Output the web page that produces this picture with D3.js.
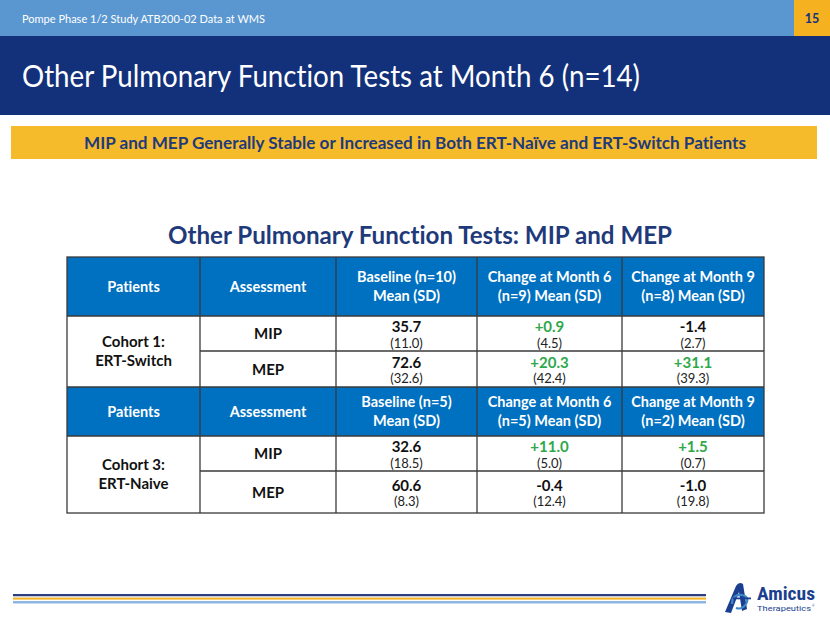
<!DOCTYPE html>
<html><head><meta charset="utf-8">
<script src="https://cdn.jsdelivr.net/npm/d3@7"></script>
<style>html,body{margin:0;padding:0;background:#fff;}svg{display:block;font-family:Lato,"Open Sans",sans-serif;font-variant-ligatures:none;font-feature-settings:"liga" 0;}</style>
</head><body>
<svg id="c" width="830" height="623"></svg>
<script>
// ---------- data ----------
const topLabel = "Pompe Phase 1/2 Study ATB200-02 Data at WMS";
const pageNumber = "15";
const slideTitle = "Other Pulmonary Function Tests at Month 6 (n=14)";
const bannerText = "MIP and MEP Generally Stable or Increased in Both ERT-Naïve and ERT-Switch Patients";
const tableTitle = "Other Pulmonary Function Tests: MIP and MEP";
const headersCohort1 = ["Patients", "Assessment", "Baseline (n=10)|Mean (SD)", "Change at Month 6|(n=9) Mean (SD)", "Change at Month 9|(n=8) Mean (SD)"];
const headersCohort3 = ["Patients", "Assessment", "Baseline (n=5)|Mean (SD)", "Change at Month 6|(n=5) Mean (SD)", "Change at Month 9|(n=2) Mean (SD)"];
const cohorts = ["Cohort 1:|ERT-Switch", "Cohort 3:|ERT-Naive"];
const assessments = ["MIP", "MEP"];
// [cohort][assessment] -> [baseline, change m6, change m9]
const means = [[[35.7, 0.9, -1.4], [72.6, 20.3, 31.1]], [[32.6, 11.0, 1.5], [60.6, -0.4, -1.0]]];
const sds   = [[[11.0, 4.5, 2.7], [32.6, 42.4, 39.3]], [[18.5, 5.0, 0.7], [8.3, 12.4, 19.8]]];

// ---------- layout ----------
const svg = d3.select("#c");
const navy = "#13317a", blueHdr = "#0070c0", green = "#2ea84a", titleBlue = "#1f3a7a";
const colEdges = [67, 200, 336, 477, 622, 764];
const x = d3.scaleOrdinal().domain(d3.range(5)).range(d3.range(5).map(i => (colEdges[i] + colEdges[i + 1]) / 2));
// row edges: hdr1, mip1, mep1, hdr2, mip3, mep3
const rowEdges = [257, 316, 351, 387, 436, 471, 513];

function fit(sel, w) {
  sel.each(function () {
    const n = this.getComputedTextLength();
    if (Math.abs(n - w) / w > 0.015) { d3.select(this).attr("textLength", w).attr("lengthAdjust", "spacingAndGlyphs"); }
  });
}

// header strips
svg.append("rect").attr("x", 0).attr("y", 0).attr("width", 830).attr("height", 36).attr("fill", "#5a97d1");
svg.append("rect").attr("x", 794).attr("y", 0).attr("width", 36).attr("height", 36).attr("fill", "#f5b120");
svg.append("rect").attr("x", 0).attr("y", 36).attr("width", 830).attr("height", 79).attr("fill", navy);
svg.append("text").attr("x", 22).attr("y", 22.5).attr("fill", "#fff").attr("font-size", 11.5).text(topLabel).call(fit, 243);
svg.append("text").attr("x", 812).attr("y", 22.5).attr("text-anchor", "middle").attr("fill", navy).attr("font-size", 12.5).attr("font-weight", 700).text(pageNumber);
svg.append("text").attr("x", 22).attr("y", 87).attr("fill", "#fff").attr("font-size", 31).text(slideTitle).call(fit, 618);

// banner
svg.append("rect").attr("x", 11).attr("y", 126).attr("width", 806).attr("height", 33).attr("fill", "#f6bb2a");
svg.append("text").attr("x", 415).attr("y", 148.5).attr("text-anchor", "middle").attr("fill", titleBlue).attr("font-size", 17.5).attr("font-weight", 700).text(bannerText).call(fit, 662);

// table title
svg.append("text").attr("x", 420).attr("y", 244).attr("text-anchor", "middle").attr("fill", titleBlue).attr("font-size", 25).attr("font-weight", 700).text(tableTitle).call(fit, 504);

// table
const fmtBase = d3.format(".1f");
const fmtChg = v => (v > 0 ? "+" : v < 0 ? "-" : "") + fmtBase(Math.abs(v));
const g = svg.append("g");
[headersCohort1, headersCohort3].forEach((hdr, ci) => {
  const hTop = rowEdges[ci * 3], hBot = rowEdges[ci * 3 + 1];
  g.append("rect").attr("x", colEdges[0]).attr("y", hTop).attr("width", colEdges[5] - colEdges[0]).attr("height", hBot - hTop).attr("fill", blueHdr);
  const hc = (hTop + hBot) / 2;
  hdr.forEach((h, j) => {
    const lines = h.split("|");
    const t = g.append("text").attr("text-anchor", "middle").attr("fill", "#fff").attr("font-size", 14.5).attr("font-weight", 700);
    lines.forEach((ln, k) => {
      t.append("tspan").attr("x", x(j)).attr("y", hc + 5 + (k - (lines.length - 1) / 2) * 18.5).text(ln);
    });
  });
  // cohort cell
  const cTop = hBot, cBot = rowEdges[ci * 3 + 3];
  const cc = (cTop + cBot) / 2;
  const cl = cohorts[ci].split("|");
  const ct = g.append("text").attr("text-anchor", "middle").attr("fill", "#111").attr("font-size", 15).attr("font-weight", 700);
  cl.forEach((ln, k) => ct.append("tspan").attr("x", x(0)).attr("y", cc + 5 + (k - 0.5) * 18.5).text(ln));
  assessments.forEach((a, ai) => {
    const rTop = rowEdges[ci * 3 + 1 + ai], rBot = rowEdges[ci * 3 + 2 + ai];
    const rc = (rTop + rBot) / 2;
    g.append("text").attr("x", x(1)).attr("y", rc + 5.5).attr("text-anchor", "middle").attr("fill", "#111").attr("font-size", 15).attr("font-weight", 700).text(a);
    means[ci][ai].forEach((m, k) => {
      const isChg = k > 0;
      g.append("text").attr("x", x(k + 2)).attr("y", rc - 1.5).attr("text-anchor", "middle")
        .attr("fill", isChg && m > 0 ? green : "#111").attr("font-size", 15).attr("font-weight", 700)
        .text(isChg ? fmtChg(m) : fmtBase(m));
      g.append("text").attr("x", x(k + 2)).attr("y", rc + 14).attr("text-anchor", "middle")
        .attr("fill", "#222").attr("font-size", 13).text("(" + fmtBase(sds[ci][ai][k]) + ")");
    });
  });
});
// grid lines
const stroke = "#3a3a3a";
const lines = g.append("g").attr("stroke", stroke).attr("stroke-width", 1.3).attr("fill", "none");
lines.append("rect").attr("x", colEdges[0]).attr("y", rowEdges[0]).attr("width", colEdges[5] - colEdges[0]).attr("height", rowEdges[6] - rowEdges[0]);
colEdges.slice(1, 5).forEach(cx => lines.append("line").attr("x1", cx).attr("x2", cx).attr("y1", rowEdges[0]).attr("y2", rowEdges[6]));
[1, 3, 4].forEach(i => lines.append("line").attr("x1", colEdges[0]).attr("x2", colEdges[5]).attr("y1", rowEdges[i]).attr("y2", rowEdges[i]));
[2, 5].forEach(i => lines.append("line").attr("x1", colEdges[1]).attr("x2", colEdges[5]).attr("y1", rowEdges[i]).attr("y2", rowEdges[i]));

// footer lines
svg.append("rect").attr("x", 13).attr("y", 594).attr("width", 693).attr("height", 2).attr("fill", "#2b3f7e");
svg.append("rect").attr("x", 13).attr("y", 596).attr("width", 693).attr("height", 1.2).attr("fill", "#c9ccd6");
svg.append("rect").attr("x", 13).attr("y", 597.6).attr("width", 693).attr("height", 2).attr("fill", "#f5b120");
svg.append("rect").attr("x", 13).attr("y", 601).attr("width", 693).attr("height", 2.5).attr("fill", "#8fb6e3");

// logo
const logo = svg.append("g");
logo.append("path").attr("d", "M725,612 L736,586 Q739,581 743,584 L747,609 L742,611 L739,592 L731,613 Z").attr("fill", "#1a3f8f");
logo.append("path").attr("d", "M732,604 Q732,594 742,595 Q750,597 746,604 Q742,610 736,608").attr("fill", "none").attr("stroke", "#3d86c9").attr("stroke-width", 2.2);
logo.append("rect").attr("x", 733).attr("y", 597.5).attr("width", 18).attr("height", 1.8).attr("fill", "#1a3f8f");
logo.append("text").attr("x", 757).attr("y", 600).attr("fill", "#1a3f8f").attr("font-size", 19).attr("font-weight", 700).attr("font-family", "'Liberation Sans Narrow','Roboto Condensed',Roboto,sans-serif").text("Amicus").call(fit, 58);
logo.append("text").attr("x", 757).attr("y", 611).attr("fill", "#1a3f8f").attr("font-size", 8).attr("font-family", "Roboto,sans-serif").text("Therapeutics").call(fit, 54);
logo.append("text").attr("x", 812).attr("y", 607).attr("fill", "#1a3f8f").attr("font-size", 3).text("®");
</script>
</body></html>
